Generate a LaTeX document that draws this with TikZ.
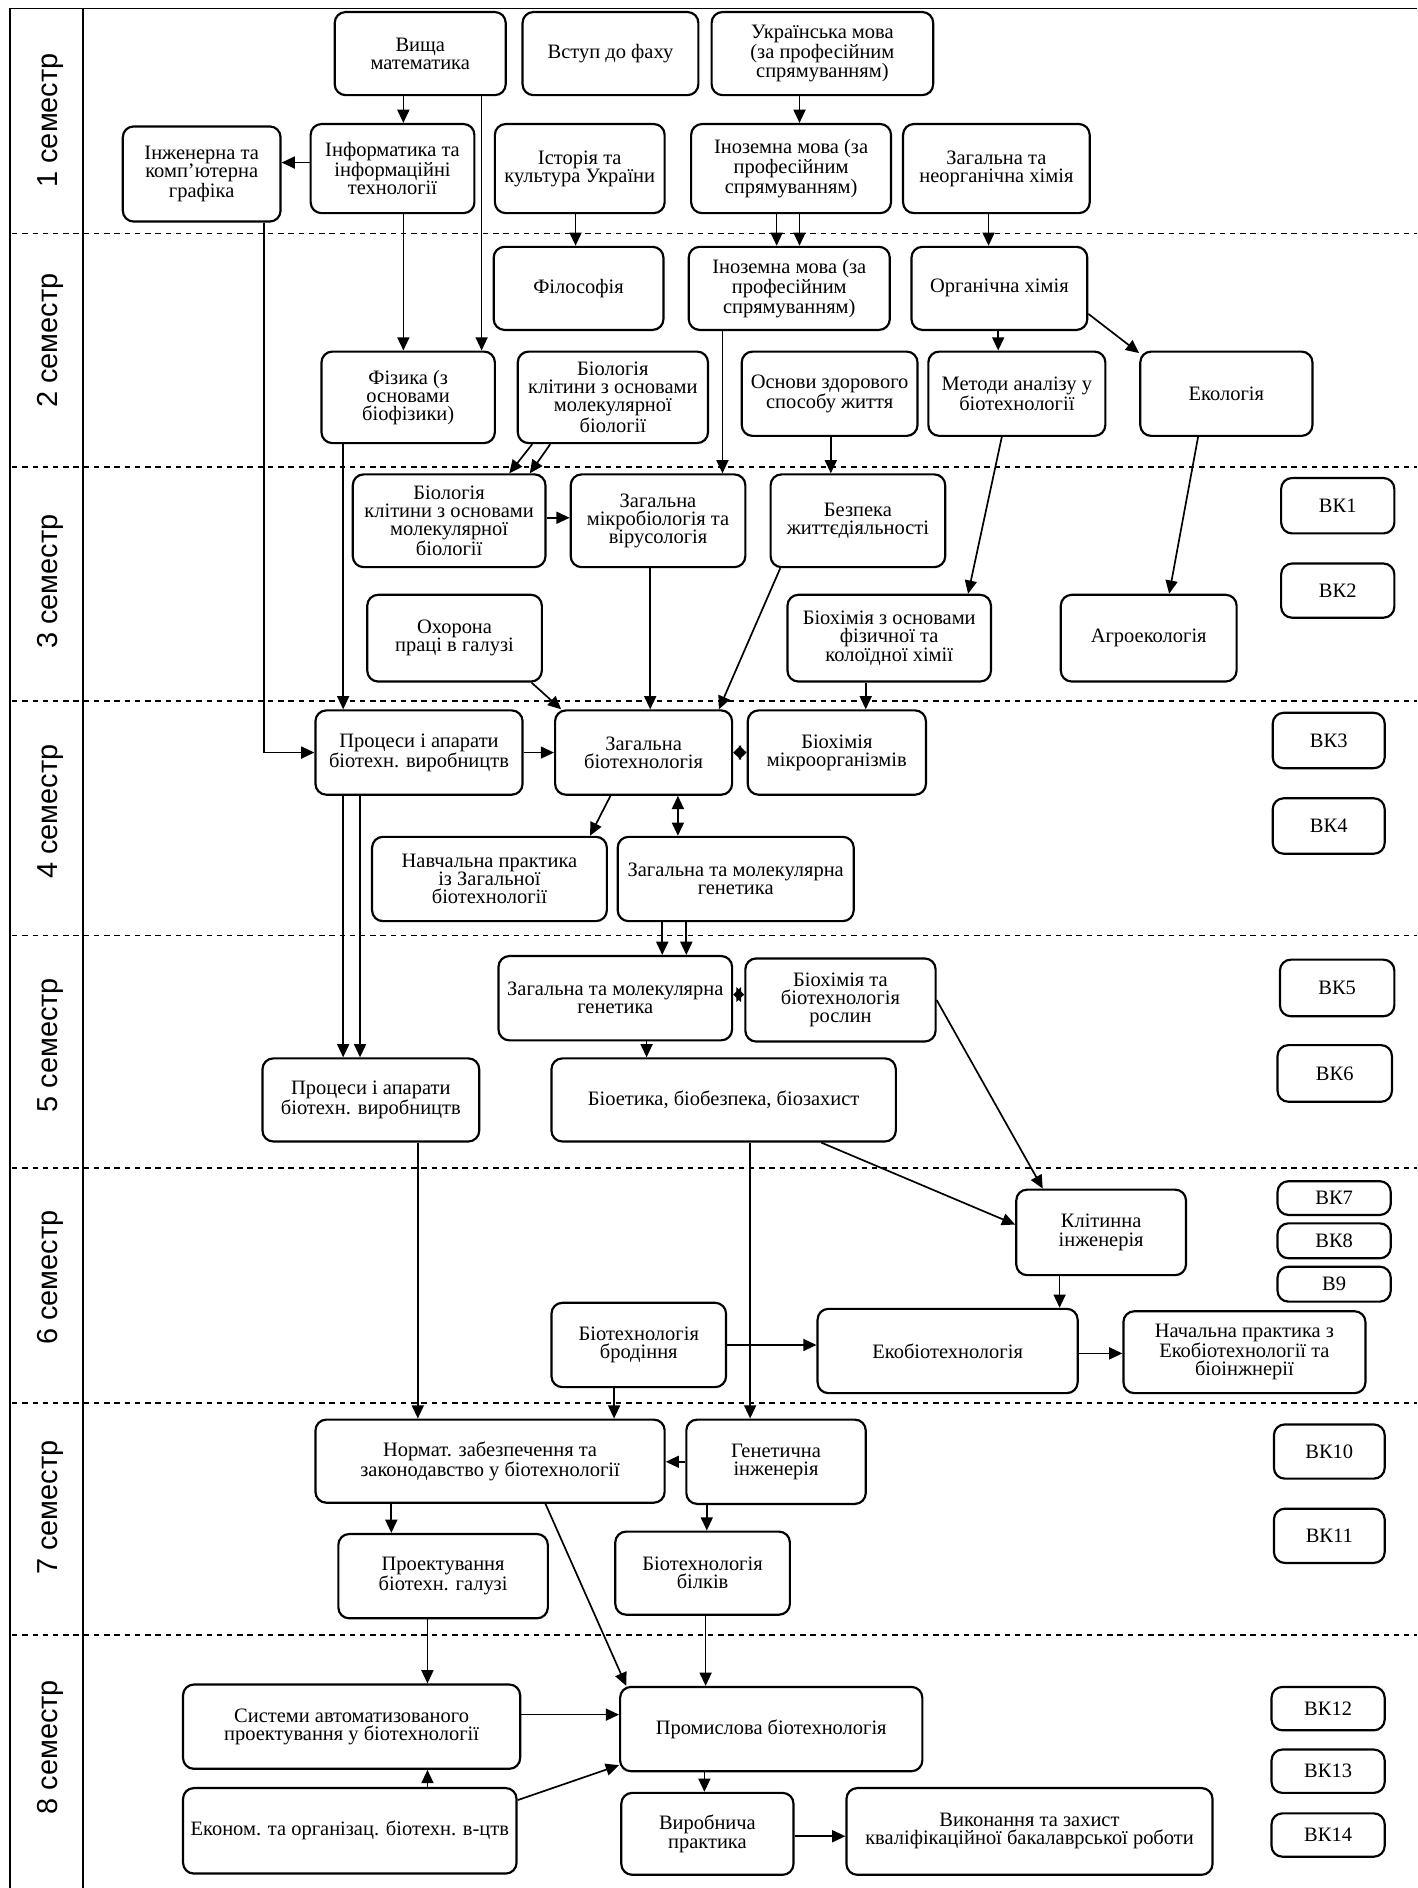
\documentclass[tikz,border=0pt]{standalone}
\usepackage{fontspec}
\setmainfont{Liberation Serif}
\newfontfamily\semfont{Liberation Sans}
\usetikzlibrary{arrows.meta}
\newcommand{\BX}[6]{%
  \pgfmathsetmacro{\bxcx}{(#2+#4)/2}%
  \pgfmathsetmacro{\bxcy}{(#3+#5)/2}%
  \pgfmathsetmacro{\bxw}{#4-#2}%
  \pgfmathsetmacro{\bxh}{#5-#3}%
  \node[cbox, minimum width=\bxw bp, minimum height=\bxh bp] (#1) at (\bxcx,\bxcy) {#6};%
}
\begin{document}
\begin{tikzpicture}[x=1bp,y=-1bp,
  cbox/.style={draw, line width=1.8bp, rounded corners=9bp, align=center, inner sep=2bp,
    font=\fontsize{17bp}{15bp}\selectfont},
  arr/.style={line width=1.4bp, -{Triangle[length=11bp,width=10bp]}},
  bow/.style={line width=1.4bp, {Triangle[length=6.5bp,width=12bp]}-{Triangle[length=6.5bp,width=12bp]}},
  dbl/.style={line width=1.4bp, {Triangle[length=11bp,width=10bp]}-{Triangle[length=11bp,width=10bp]}},
  sep/.style={line width=1.3bp, dash pattern=on 4.5bp off 4bp},
  frame/.style={line width=1.5bp},
  sem/.style={rotate=90, font=\semfont\fontsize{24bp}{24bp}\selectfont}]
\useasboundingbox (0,0) rectangle (1177,1568);
\fill[white] (0,0) rectangle (1177,1568);

% frame
\draw[frame] (8,1568) -- (8,7) -- (1177,7);
\draw[frame] (69,7) -- (69,1568);
\foreach \yy in {194,388,582,777,970,1165,1358} {
  \draw[sep] (10,\yy) -- (1177,\yy);
}
% semester labels
\node[sem] (s1) at (42,100) {1 семестр};
\node[sem] (s2) at (42,283) {2 семестр};
\node[sem] (s3) at (42,483) {3 семестр};
\node[sem] (s4) at (42,674) {4 семестр};
\node[sem] (s5) at (42,868) {5 семестр};
\node[sem] (s6) at (42,1061) {6 семестр};
\node[sem] (s7) at (42,1252) {7 семестр};
\node[sem] (s8) at (42,1451) {8 семестр};

% semester 1
\BX{vm}{278}{10}{420}{79}{Вища\\математика}
\BX{vf}{434}{10}{580}{79}{Вступ до фаху}
\BX{um}{591}{10}{775}{79}{Українська мова\\(за професійним\\спрямуванням)}
\BX{ig}{102}{105}{233}{184}{Інженерна та\\комп’ютерна\\графіка}
\BX{it}{258}{103}{394}{177}{Інформатика та\\інформаційні\\технології}
\BX{ik}{411}{103}{552}{177}{Історія та\\культура України}
\BX{in1}{574}{103}{740}{177}{Іноземна мова (за\\професійним\\спрямуванням)}
\BX{zn}{750}{103}{905}{177}{Загальна та\\неорганічна хімія}
% semester 2
\BX{fl}{410}{205}{551}{274}{Філософія}
\BX{in2}{572}{205}{739}{274}{Іноземна мова (за\\професійним\\спрямуванням)}
\BX{oh}{757}{205}{903}{274}{Органічна хімія}
\BX{fz}{267}{292}{411}{368}{Фізика (з\\основами\\біофізики)}
\BX{bk1}{430}{292}{588}{368}{Біологія\\клітини з основами\\молекулярної\\біології}
\BX{oz}{616}{292}{762}{362}{Основи здорового\\способу життя}
\BX{ma}{771}{292}{918}{362}{Методи аналізу у\\біотехнології}
\BX{ec}{947}{292}{1090}{362}{Екологія}
% semester 3
\BX{bk2}{293}{394}{453}{471}{Біологія\\клітини з основами\\молекулярної\\біології}
\BX{mb}{474}{394}{619}{471}{Загальна\\мікробіологія та\\вірусологія}
\BX{bz}{640}{394}{785}{471}{Безпека\\життєдіяльності}
\BX{op}{305}{494}{450}{566}{Охорона\\праці в галузі}
\BX{bo}{654}{494}{823}{566}{Біохімія з основами\\фізичної та\\колоїдної хімії}
\BX{ag}{881}{494}{1027}{566}{Агроекологія}
\BX{vk1}{1064}{397}{1158}{443}{ВК1}
\BX{vk2}{1064}{468}{1158}{513}{ВК2}
% semester 4
\BX{pa1}{262}{590}{434}{660}{Процеси і апарати\\біотехн. виробництв}
\BX{zb}{461}{590}{608}{660}{Загальна\\біотехнологія}
\BX{bm}{621}{590}{769}{660}{Біохімія\\мікроорганізмів}
\BX{np}{309}{695}{504}{765}{Навчальна практика\\із Загальної\\біотехнології}
\BX{zg1}{513}{695}{709}{765}{Загальна та молекулярна\\генетика}
\BX{vk3}{1057}{592}{1150}{638}{ВК3}
\BX{vk4}{1057}{663}{1150}{709}{ВК4}
% semester 5
\BX{zg2}{414}{794}{608}{864}{Загальна та молекулярна\\генетика}
\BX{br}{619}{796}{777}{865}{Біохімія та\\біотехнологія\\рослин}
\BX{pa2}{218}{879}{398}{948}{Процеси і апарати\\біотехн. виробництв}
\BX{be}{458}{879}{744}{948}{Біоетика, біобезпека, біозахист}
\BX{vk5}{1063}{797}{1158}{844}{ВК5}
\BX{vk6}{1061}{868}{1156}{915}{ВК6}
% semester 6
\BX{ki}{844}{988}{985}{1059}{Клітинна\\інженерія}
\BX{bd}{458}{1082}{603}{1152}{Біотехнологія\\бродіння}
\BX{eb}{679}{1087}{895}{1157}{Екобіотехнологія}
\BX{nk}{933}{1089}{1134}{1157}{Начальна практика з\\Екобіотехнології та\\біоінжнерії}
\BX{vk7}{1061}{981}{1155}{1009}{ВК7}
\BX{vk8}{1061}{1016}{1155}{1045}{ВК8}
\BX{vk9}{1061}{1052}{1155}{1081}{В9}
% semester 7
\BX{nz}{262}{1179}{552}{1248}{Нормат. забезпечення та\\законодавство у біотехнології}
\BX{gi}{570}{1179}{719}{1249}{Генетична\\інженерія}
\BX{pr}{281}{1274}{455}{1344}{Проектування\\біотехн. галузі}
\BX{bb}{511}{1272}{656}{1341}{Біотехнологія\\білків}
\BX{vk10}{1058}{1183}{1150}{1228}{ВК10}
\BX{vk11}{1058}{1253}{1150}{1298}{ВК11}
% semester 8
\BX{sa}{152}{1399}{432}{1469}{Системи автоматизованого\\проектування у біотехнології}
\BX{pb}{515}{1401}{766}{1471}{Промислова біотехнологія}
\BX{ek}{152}{1485}{429}{1556}{Економ. та організац. біотехн. в-цтв}
\BX{vp}{516}{1489}{659}{1557}{Виробнича\\практика}
\BX{vz}{703}{1485}{1007}{1557}{Виконання та захист\\кваліфікаційної бакалаврської роботи}
\BX{vk12}{1056}{1401}{1150}{1437}{ВК12}
\BX{vk13}{1056}{1453}{1150}{1489}{ВК13}
\BX{vk14}{1056}{1506}{1150}{1542}{ВК14}

% connectors
\draw[arr] ([xshift=-14bp]vm.south) -- ([xshift=-14bp]vm.south |- it.north);
\draw[arr] ([xshift=51bp]vm.south) -- ([xshift=51bp]vm.south |- fz.north);
\draw[arr] ([xshift=9bp]it.south) -- ([xshift=9bp]it.south |- fz.north);
\draw[arr] ([yshift=5bp]it.west) -- ([yshift=5bp]it.west -| ig.east);
\draw[arr] ([xshift=-3.5bp]ik.south) -- ([xshift=-3.5bp]ik.south |- fl.north);
\draw[arr] ([xshift=-19bp]um.south) -- ([xshift=-19bp]um.south |- in1.north);
\draw[arr] ([xshift=-12bp]in1.south) -- ([xshift=-12bp]in1.south |- in2.north);
\draw[arr] ([xshift=7bp]in1.south) -- ([xshift=7bp]in1.south |- in2.north);
\draw[arr] ([xshift=-6.5bp]zn.south) -- ([xshift=-6.5bp]zn.south |- oh.north);
\draw[arr] ([xshift=-1bp]oh.south) -- ([xshift=-1bp]oh.south |- ma.north);
\draw[arr] (oh.-16) -- (ec.155);
\draw[arr] ([xshift=-55.5bp]in2.south) -- ([xshift=-55.5bp]in2.south |- mb.north);
\draw[arr] ([xshift=1bp]oz.south) -- ([xshift=1bp]oz.south |- bz.north);
\draw[arr] ([xshift=-12.5bp]ma.south) -- ([xshift=65.5bp]bo.north);
\draw[arr] ([xshift=-23.5bp]ec.south) -- ([xshift=17bp]ag.north);
\draw[arr] ([xshift=-67bp]bk1.south) -- ([xshift=50bp]bk2.north);
\draw[arr] ([xshift=-52bp]bk1.south) -- ([xshift=67bp]bk2.north);
\draw[arr] ([yshift=2.5bp]bk2.east) -- ([yshift=2.5bp]bk2.east -| mb.west);
\draw[arr] ([xshift=-6.5bp]mb.south) -- ([xshift=-6.5bp]mb.south |- zb.north);
\draw[arr] ([xshift=-64.5bp]bz.south) -- ([xshift=62.5bp]zb.north);
\draw[arr] (op.-30) -- ([xshift=6bp]zb.north west);
\draw[arr] ([xshift=-19.5bp]bo.south) -- ([xshift=-19.5bp]bo.south |- bm.north);
\draw[arr] (pa1.east) -- (pa1.east -| zb.west);
\draw[arr] ([xshift=51.5bp]ig.south) |- (pa1.west);
\draw[arr] ([xshift=-54bp]fz.south) -- ([xshift=-54bp]fz.south |- pa1.north);
\draw[arr] ([xshift=-27.5bp]zb.south) -- ([xshift=83.5bp]np.north);
\draw[dbl] ([xshift=28.5bp]zb.south) -- ([xshift=28.5bp]zb.south |- zg1.north);
\draw[bow] (zb.east) -- (zb.east -| bm.west);
\draw[arr] ([xshift=-61bp]zg1.south) -- ([xshift=-61bp]zg1.south |- zg2.north);
\draw[arr] ([xshift=-41bp]zg1.south) -- ([xshift=-41bp]zg1.south |- zg2.north);
\draw[bow] ([yshift=3bp]zg2.east) -- ([yshift=3bp]zg2.east -| br.west);
\draw[arr] ([xshift=26bp]zg2.south) -- ([xshift=26bp]zg2.south |- be.north);
\draw[arr] ([xshift=-63bp]pa1.south) -- ([xshift=-63bp]pa1.south |- pa2.north);
\draw[arr] ([xshift=-49bp]pa1.south) -- ([xshift=-49bp]pa1.south |- pa2.north);
\draw[arr] ([xshift=39bp]pa2.south) -- ([xshift=39bp]pa2.south |- nz.north);
\draw[arr] (br.east) -- ([xshift=-48.5bp]ki.north);
\draw[arr] ([xshift=81bp]be.south) -- ([yshift=6.5bp]ki.west);
\draw[arr] ([xshift=22bp]be.south) -- ([xshift=22bp]be.south |- gi.north);
\draw[arr] ([xshift=-34.5bp]ki.south) -- ([xshift=-34.5bp]ki.south |- eb.north);
\draw[arr] (bd.east) -- (bd.east -| eb.west);
\draw[arr] ([yshift=-2bp]eb.east) -- ([yshift=-2bp]eb.east -| nk.west);
\draw[arr] ([xshift=-20.5bp]bd.south) -- ([xshift=-20.5bp]bd.south |- nz.north);
\draw[arr] (gi.west) -- (gi.west -| nz.east);
\draw[arr] ([xshift=-82bp]nz.south) -- ([xshift=-82bp]nz.south |- pr.north);
\draw[arr] ([xshift=-57.5bp]gi.south) -- ([xshift=-57.5bp]gi.south |- bb.north);
\draw[arr] ([xshift=46bp]nz.south) -- ([xshift=6bp]pb.north west);
\draw[arr] ([xshift=2.5bp]bb.south) -- ([xshift=2.5bp]bb.south |- pb.north);
\draw[arr] ([xshift=-13bp]pr.south) -- ([xshift=-13bp]pr.south |- sa.north);
\draw[arr] ([yshift=10bp]sa.east) -- ([yshift=10bp]sa.east -| pb.west);
\draw[arr] ([xshift=64.5bp]ek.north) -- ([xshift=64.5bp]ek.north |- sa.south);
\draw[arr] ([yshift=25.5bp]ek.east) -- ([yshift=-30bp]pb.west);
\draw[arr] ([xshift=-55.5bp]pb.south) -- ([xshift=-55.5bp]pb.south |- vp.north);
\draw[arr] ([yshift=-2bp]vp.east) -- ([yshift=-2bp]vp.east -| vz.west);
\end{tikzpicture}
\end{document}
